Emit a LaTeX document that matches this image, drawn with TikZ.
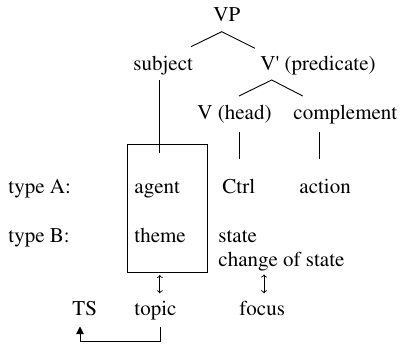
\documentclass[tikz,border=0pt]{standalone}
\usepackage[T1]{fontenc}
\usepackage{mathptmx}
\usetikzlibrary{arrows.meta}
\begin{document}
\begin{tikzpicture}[x=1pt,y=-1pt,
  every node/.style={font=\fontsize{21pt}{25pt}\selectfont, inner sep=0pt, anchor=base west},
  every path/.style={line width=0.9pt},
  dbl/.style={{To[length=3pt,width=6pt]}-{To[length=3pt,width=6pt]}, line width=0.7pt},
  tip/.style={-{Triangle[length=7.5pt,width=7.5pt]}}]
\useasboundingbox (0,0) rectangle (401,344);
\node (VP) at (213,22) {VP};
\node (subj) at (133,71) {subject};
\node (pred) at (260,71) {V\textquotesingle{} (predicate)};
\node (head) at (197,120) {V (head)};
\node (comp) at (293,120) {complement};
\node (typeA) at (8,194) {type A:};
\node (agent) at (134,194) {agent};
\node (ctrl) at (222,194) {Ctrl};
\node (action) at (299,194) {action};
\node (typeB) at (8,243) {type B:};
\node (theme) at (134,243) {theme};
\node (state) at (218,243) {state};
\node (cos) at (218,267) {change of state};
\node (TS) at (72,315) {TS};
\node (topic) at (134,315) {topic};
\node (focus) at (239,315) {focus};
\node[draw, anchor=center, minimum width=80pt, minimum height=128pt] (box) at (167.3,208.3) {};
% tree branches
\draw ([xshift=58pt,yshift=24.3pt]subj.base west) -- ([xshift=8.7pt,yshift=-9.7pt]VP.base west) -- ([xshift=-5pt,yshift=22.7pt]pred.base west);
\draw ([xshift=42pt,yshift=24pt]head.base west) -- ([xshift=11.7pt,yshift=-9pt]pred.base west) -- ([xshift=9.7pt,yshift=24pt]comp.base west);
% vertical links
\draw ([xshift=26.3pt,yshift=-9pt]subj.base west) -- ([xshift=26.3pt,yshift=-9pt]subj.base west |- box.north);
\draw ([xshift=42pt,yshift=-11.7pt]head.base west) -- ([xshift=17pt,yshift=34.7pt]ctrl.base west);
\draw ([xshift=26.3pt,yshift=-11.7pt]comp.base west) -- ([xshift=20.3pt,yshift=34.7pt]action.base west);
% double arrows
\draw[dbl] ([xshift=-7.5pt,yshift=-2.3pt]box.south) -- ([xshift=25.8pt,yshift=21.7pt]topic.base west);
\draw[dbl] ([xshift=46pt,yshift=-7.5pt]cos.base west) -- ([xshift=25pt,yshift=21.7pt]focus.base west);
% topic to TS
\draw[tip] ([xshift=26pt,yshift=-11.7pt]topic.base west) -- ++(0,15) -| ([xshift=8pt,yshift=-11.5pt]TS.base west);
\end{tikzpicture}
\end{document}
